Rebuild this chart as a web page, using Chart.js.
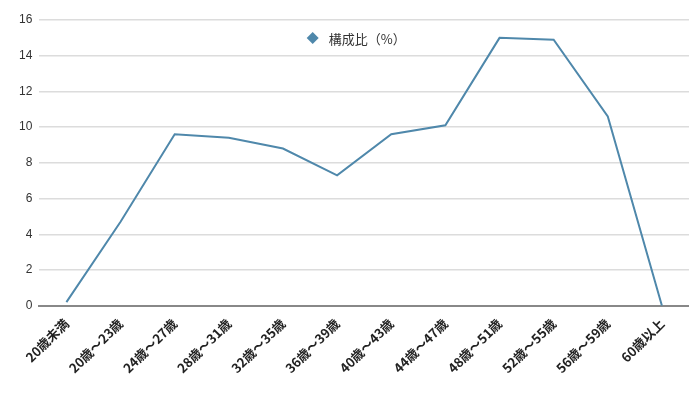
<!DOCTYPE html>
<html>
<head>
<meta charset="utf-8">
<script src="https://cdn.jsdelivr.net/npm/chart.js@4/dist/chart.umd.min.js"></script>
<style>
html,body{margin:0;padding:0;background:#fff}
#wrap{width:689px;height:395px}
</style>
</head>
<body>
<div id="wrap"><canvas id="c"></canvas></div>
<script>
const labels = ['20歳未満','20歳～23歳','24歳～27歳','28歳～31歳','32歳～35歳','36歳～39歳','40歳～43歳','44歳～47歳','48歳～51歳','52歳～55歳','56歳～59歳','60歳以上'];
const ratio = [0.2, 4.7, 9.6, 9.4, 8.8, 7.3, 9.6, 10.1, 15.0, 14.9, 10.6, 0];
const yTicks = [0,2,4,6,8,10,12,14,16];
const seriesName = '構成比（%）';

const font = "'Noto Sans CJK JP','Noto Sans',sans-serif";
const lineColor = '#4f88ab';

// legend drawn inside the plot, centred near the top
const innerLegend = {
  id:'innerLegend',
  afterDraw(chart){
    const {ctx, chartArea:a} = chart;
    const cx = (a.left + a.right)/2 - 5, cy = a.top + 18;
    ctx.save();
    ctx.font = "13px " + font;
    const tw = ctx.measureText(seriesName).width;
    const x0 = cx - (tw + 16)/2;
    ctx.fillStyle = lineColor;
    ctx.beginPath();
    ctx.moveTo(x0, cy - 6); ctx.lineTo(x0 + 6, cy); ctx.lineTo(x0, cy + 6); ctx.lineTo(x0 - 6, cy);
    ctx.closePath(); ctx.fill();
    ctx.fillStyle = '#333';
    ctx.textBaseline = 'middle';
    ctx.fillText(seriesName, x0 + 16, cy + 1);
    ctx.restore();
  }
};

new Chart(document.getElementById('c'),{
  type:'line',
  data:{labels:labels,datasets:[{
    label:seriesName,data:ratio,borderColor:lineColor,backgroundColor:lineColor,
    borderWidth:2,pointRadius:0,tension:0
  }]},
  options:{
    responsive:true,maintainAspectRatio:false,animation:false,
    layout:{padding:{top:20,right:0,left:12,bottom:17}},
    plugins:{legend:{display:false},tooltip:{enabled:false}},
    scales:{
      x:{offset:true,grid:{display:false},
        border:{color:'#888',width:2},
        ticks:{autoSkip:false,maxRotation:45,minRotation:45,color:'#222',padding:2,font:{family:font,size:13,weight:'bold'}}},
      y:{min:0,max:16,afterBuildTicks:a=>{a.ticks=yTicks.map(v=>({value:v}))},
        grid:{color:'#dcdcdc',lineWidth:1.5,drawTicks:false},
        border:{display:false},
        ticks:{color:'#333',padding:7,font:{family:"'Liberation Sans',Arial,sans-serif",size:12}}}
    }
  },
  plugins:[innerLegend]
});
</script>
</body>
</html>
